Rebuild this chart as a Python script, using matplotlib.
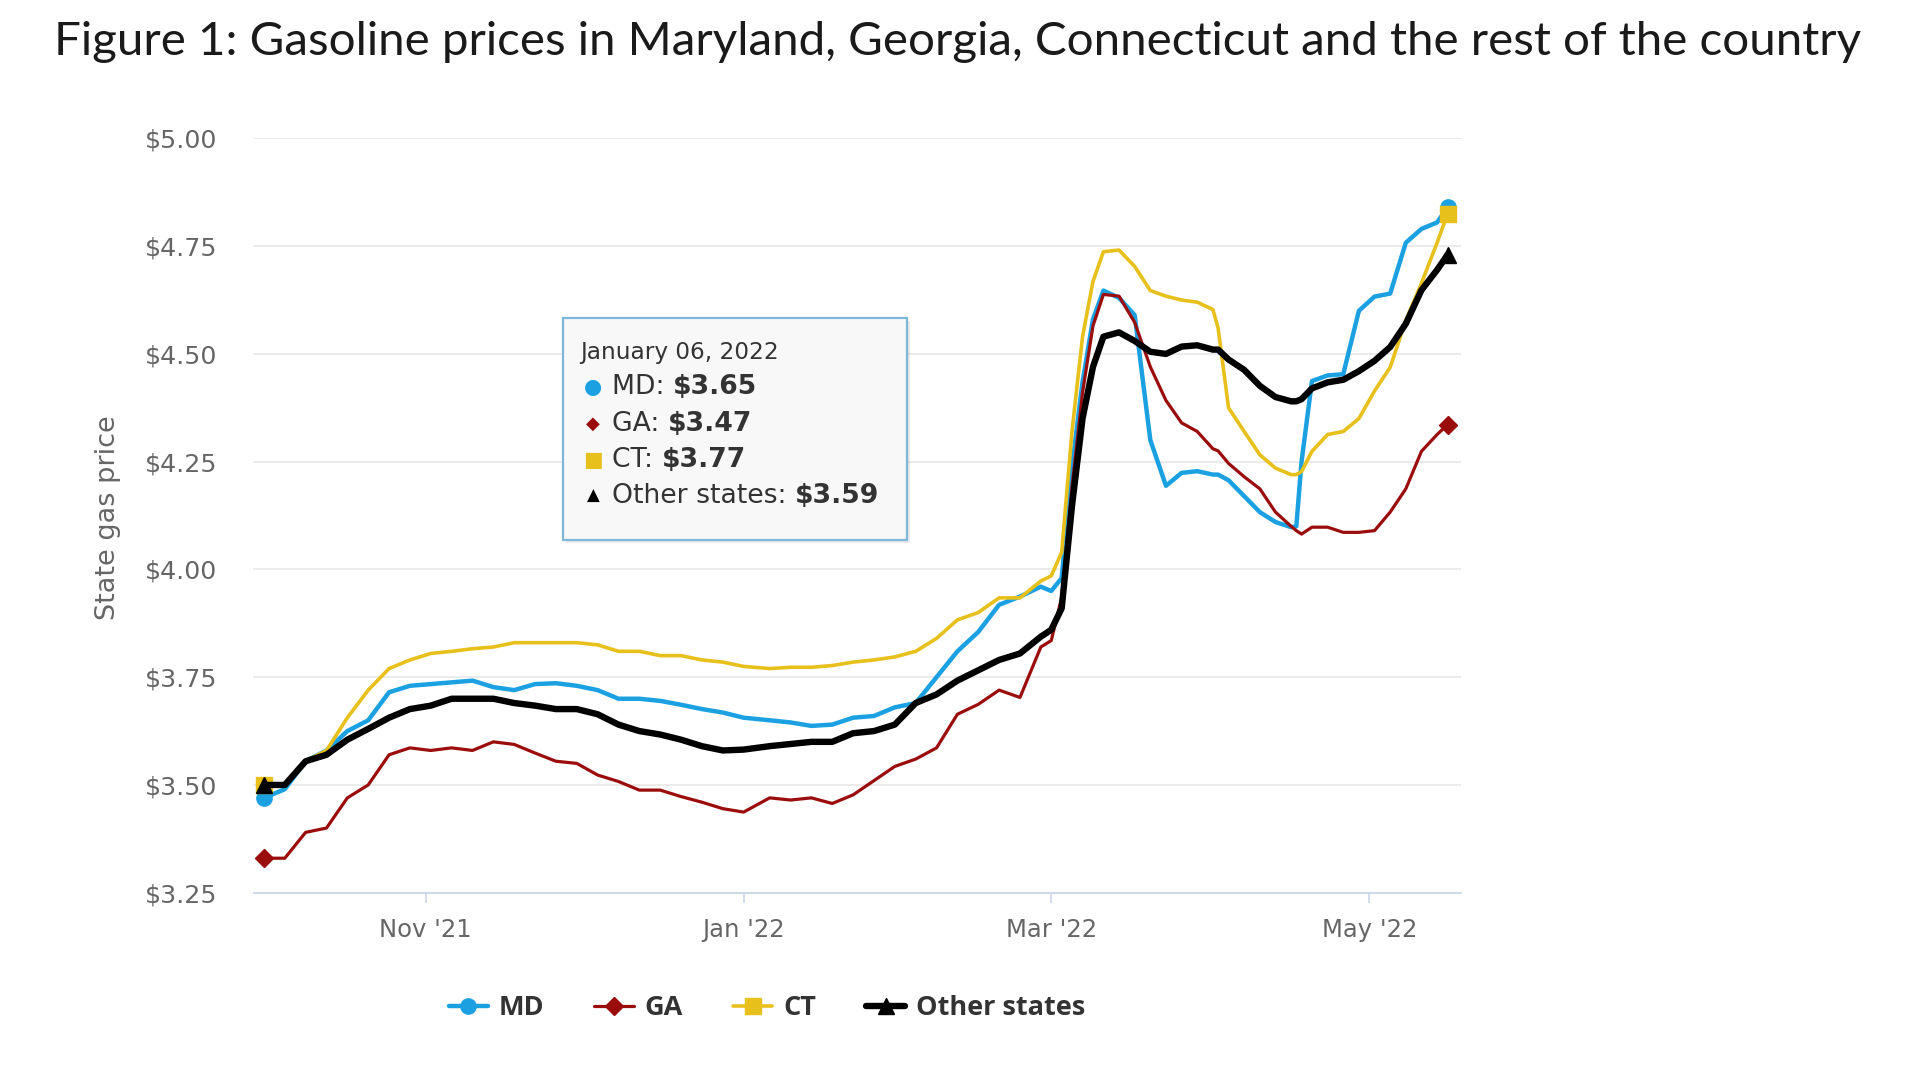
import matplotlib
matplotlib.use("Agg")
import matplotlib.pyplot as plt
import matplotlib.dates as mdates
from matplotlib.patches import FancyBboxPatch
import numpy as np

# values (state average gas price, $/gal)
dates = ["2021-10-01", "2021-10-05", "2021-10-09", "2021-10-13", "2021-10-17", "2021-10-21",
         "2021-10-25", "2021-10-29", "2021-11-02", "2021-11-06", "2021-11-10", "2021-11-14",
         "2021-11-18", "2021-11-22", "2021-11-26", "2021-11-30", "2021-12-04", "2021-12-08",
         "2021-12-12", "2021-12-16", "2021-12-20", "2021-12-24", "2021-12-28", "2022-01-01",
         "2022-01-06", "2022-01-10", "2022-01-14", "2022-01-18", "2022-01-22", "2022-01-26",
         "2022-01-30", "2022-02-03", "2022-02-07", "2022-02-11", "2022-02-15", "2022-02-19",
         "2022-02-23", "2022-02-27", "2022-03-01", "2022-03-03", "2022-03-05", "2022-03-07",
         "2022-03-09", "2022-03-11", "2022-03-14", "2022-03-17", "2022-03-20", "2022-03-23",
         "2022-03-26", "2022-03-29", "2022-04-01", "2022-04-02", "2022-04-04", "2022-04-07",
         "2022-04-10", "2022-04-13", "2022-04-16", "2022-04-17", "2022-04-18", "2022-04-20",
         "2022-04-23", "2022-04-26", "2022-04-29", "2022-05-02", "2022-05-05", "2022-05-08",
         "2022-05-11", "2022-05-14", "2022-05-16"]

md = [3.47, 3.49, 3.555, 3.58, 3.625, 3.65, 3.715, 3.73, 3.734, 3.738, 3.742, 3.727,
      3.72, 3.734, 3.736, 3.73, 3.72, 3.70, 3.70, 3.695, 3.686, 3.676, 3.668, 3.656,
      3.65, 3.645, 3.637, 3.64, 3.656, 3.66, 3.68, 3.69, 3.75, 3.81, 3.855, 3.918,
      3.937, 3.96, 3.95, 3.98, 4.24, 4.435, 4.58, 4.647, 4.63, 4.59, 4.30, 4.194,
      4.224, 4.228, 4.22, 4.22, 4.207, 4.17, 4.133, 4.11, 4.098, 4.10, 4.25, 4.437,
      4.45, 4.453, 4.60, 4.633, 4.64, 4.758, 4.79, 4.805, 4.84]

ga = [3.33, 3.33, 3.39, 3.40, 3.47, 3.50, 3.57, 3.586, 3.58, 3.586, 3.58, 3.60,
      3.594, 3.574, 3.555, 3.55, 3.523, 3.508, 3.488, 3.488, 3.473, 3.46, 3.445, 3.437,
      3.47, 3.465, 3.47, 3.457, 3.477, 3.51, 3.543, 3.56, 3.586, 3.664, 3.687, 3.72,
      3.703, 3.82, 3.835, 3.935, 4.194, 4.41, 4.565, 4.638, 4.634, 4.573, 4.47, 4.392,
      4.34, 4.32, 4.28, 4.275, 4.246, 4.215, 4.187, 4.133, 4.10, 4.09, 4.082, 4.098,
      4.098, 4.086, 4.086, 4.09, 4.133, 4.187, 4.274, 4.313, 4.336]

ct = [3.50, 3.50, 3.555, 3.58, 3.656, 3.72, 3.77, 3.79, 3.805, 3.81, 3.816, 3.82,
      3.83, 3.83, 3.83, 3.83, 3.825, 3.81, 3.81, 3.80, 3.80, 3.79, 3.785, 3.775,
      3.77, 3.773, 3.773, 3.777, 3.785, 3.79, 3.797, 3.81, 3.84, 3.883, 3.90, 3.934,
      3.934, 3.973, 3.985, 4.04, 4.323, 4.54, 4.668, 4.737, 4.741, 4.703, 4.647, 4.634,
      4.625, 4.62, 4.603, 4.56, 4.375, 4.32, 4.266, 4.235, 4.22, 4.22, 4.227, 4.274,
      4.313, 4.32, 4.35, 4.414, 4.469, 4.578, 4.664, 4.758, 4.825]

other = [3.50, 3.50, 3.555, 3.57, 3.605, 3.63, 3.656, 3.676, 3.684, 3.70, 3.70, 3.70,
         3.69, 3.684, 3.676, 3.676, 3.664, 3.64, 3.625, 3.617, 3.605, 3.59, 3.58, 3.582,
         3.59, 3.595, 3.60, 3.60, 3.62, 3.625, 3.64, 3.69, 3.71, 3.742, 3.766, 3.79,
         3.805, 3.844, 3.86, 3.91, 4.15, 4.35, 4.47, 4.54, 4.55, 4.53, 4.505, 4.50,
         4.517, 4.52, 4.51, 4.51, 4.487, 4.463, 4.426, 4.40, 4.39, 4.39, 4.395, 4.42,
         4.434, 4.44, 4.46, 4.484, 4.516, 4.57, 4.648, 4.695, 4.73]

names = ["MD", "GA", "CT", "Other states"]
values = [md, ga, ct, other]
colors = ["#1ba1e2", "#9b0d0d", "#e8c01c", "#000000"]
markers = ["o", "D", "s", "^"]
widths = [3.2, 2.3, 2.6, 4.6]
msizes = [11, 9, 11, 12]
draw_order = [1, 0, 2, 3]

tick_dates = ["2021-11-01", "2022-01-01", "2022-03-01", "2022-05-01"]
tick_labels = ["Nov '21", "Jan '22", "Mar '22", "May '22"]
y_ticks = [3.25, 3.50, 3.75, 4.00, 4.25, 4.50, 4.75, 5.00]
tooltip_date = "2022-01-06"

title = "Figure 1: Gasoline prices in Maryland, Georgia, Connecticut and the rest of the country"
body_font = "DejaVu Sans"

W, H = 1920, 1080
fig = plt.figure(figsize=(19.2, 10.8), dpi=100)
fig.patch.set_facecolor("white")
ax = fig.add_axes([253.5 / W, 1 - 892.7 / H, (1461 - 253.5) / W, (892.7 - 138.4) / H])

x = mdates.datestr2num(dates)
handles = []
for i in draw_order:
    ln, = ax.plot(x, values[i], color=colors[i], lw=widths[i], marker=markers[i],
                  markersize=msizes[i], markevery=[0, len(x) - 1], solid_joinstyle="round",
                  solid_capstyle="round", zorder=3 + i)
    handles.append((i, ln))
handles = [h for _, h in sorted(handles)]

ax.set_ylim(3.25, 5.00)
ax.set_xlim(mdates.datestr2num("2021-09-29"), mdates.datestr2num("2022-05-18 14:00"))
ax.set_yticks(y_ticks)
ax.set_yticklabels([f"${v:.2f}" for v in y_ticks])
ax.set_xticks(mdates.datestr2num(tick_dates))
ax.set_xticklabels(tick_labels)

for s in ["top", "right", "left"]:
    ax.spines[s].set_visible(False)
ax.spines["bottom"].set_color("#ccd6eb")
ax.spines["bottom"].set_linewidth(1.3)
ax.grid(axis="y", color="#e6e6e6", lw=1.1)
ax.set_axisbelow(True)
ax.tick_params(axis="y", length=0, pad=26, labelsize=18.2, labelcolor="#666666")
ax.tick_params(axis="x", length=7, width=1.2, color="#ccd6eb", pad=11, labelsize=17.5,
               labelcolor="#666666")
for lab in ax.get_xticklabels() + ax.get_yticklabels():
    lab.set_family(body_font)

fig.text(108 / W, 1 - 518 / H, "State gas price", rotation=90, ha="center", va="center",
         fontsize=19.5, color="#666666", family=body_font)

fig.text(54 / W, 1 - 55 / H, title, ha="left", va="baseline", fontsize=34.2,
         family="Lato", color="#1a1a1a")

leg = fig.legend(handles, names, loc="center", bbox_to_anchor=(767 / W, 1 - 1008 / H),
                 ncol=4, frameon=False, handlelength=1.45, handletextpad=0.4,
                 columnspacing=1.85, prop={"family": "Open Sans", "weight": "bold", "size": 19.5})
for t in leg.get_texts():
    t.set_color("#333333")

# tooltip box for January 06, 2022
shadow = FancyBboxPatch((566 / W, 1 - 543 / H), (907 - 563) / W, (540 - 318) / H,
                        boxstyle="square,pad=0", transform=fig.transFigure,
                        facecolor="#000000", alpha=0.08, edgecolor="none", zorder=5)
box = FancyBboxPatch((563 / W, 1 - 540 / H), (907 - 563) / W, (540 - 318) / H,
                     boxstyle="square,pad=0", transform=fig.transFigure,
                     facecolor="#f8f8f8", edgecolor="#7db7d9", lw=1.6, zorder=6)
fig.patches.extend([shadow, box])

k = dates.index(tooltip_date)
fig.text(580 / W, 1 - 353 / H, "January 06, 2022", ha="left", va="center", fontsize=16.7,
         color="#333333", family=body_font, zorder=7)
fig.canvas.draw()
renderer = fig.canvas.get_renderer()
sym = ["\u25cf", "\u25c6", "\u25a0", "\u25b2"]
sym_size = [15, 13, 15, 12]
row_y = [387, 424, 460, 496]
for i in range(4):
    yy = 1 - row_y[i] / H
    fig.text(593 / W, yy, sym[i], ha="center", va="center", fontsize=sym_size[i],
             color=colors[i], family="DejaVu Sans", zorder=7)
    t = fig.text(612 / W, yy, names[i] + ": ", ha="left", va="center", fontsize=19.2,
                 color="#333333", family=body_font, zorder=7)
    bb = t.get_window_extent(renderer)
    fig.text(bb.x1 / W, yy, f"${values[i][k]:.2f}", ha="left", va="center", fontsize=19.2,
             fontweight="bold", color="#333333", family=body_font, zorder=7)

fig.savefig("out.png", dpi=100)
